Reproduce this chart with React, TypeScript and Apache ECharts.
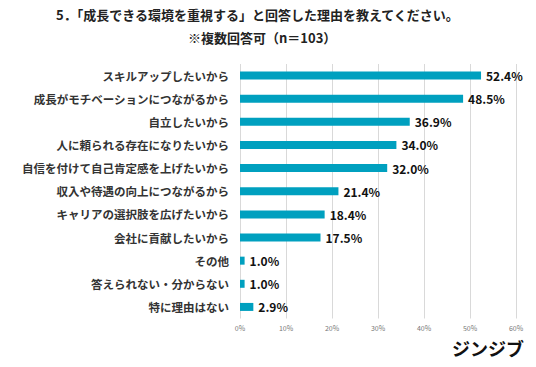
import React, { useEffect, useRef } from "react";
import * as echarts from "echarts";

const categories = [
  "スキルアップしたいから",
  "成長がモチベーションにつながるから",
  "自立したいから",
  "人に頼られる存在になりたいから",
  "自信を付けて自己肯定感を上げたいから",
  "収入や待遇の向上につながるから",
  "キャリアの選択肢を広げたいから",
  "会社に貢献したいから",
  "その他",
  "答えられない・分からない",
  "特に理由はない",
];
const values = [52.4, 48.5, 36.9, 34.0, 32.0, 21.4, 18.4, 17.5, 1.0, 1.0, 2.9];
const title = "5．「成長できる環境を重視する」と回答した理由を教えてください。";
const subtitle = "※複数回答可（n＝103）";
const logo = "ジンジブ";

const FONT = "'Noto Sans CJK JP', 'Noto Sans', sans-serif";

export default function App() {
  const ref = useRef<HTMLDivElement>(null);
  useEffect(() => {
    const chart = echarts.init(ref.current!, null, { renderer: "svg" });
    chart.setOption({
      animation: false,
      backgroundColor: "#ffffff",
      title: [
        {
          text: title,
          left: 56,
          top: 8,
          padding: 0,
          textStyle: { fontFamily: FONT, fontSize: 13, fontWeight: "bold", color: "#222" },
        },
        {
          text: subtitle,
          left: 188,
          top: 31,
          padding: 0,
          textStyle: { fontFamily: FONT, fontSize: 13, fontWeight: "bold", color: "#222" },
        },
      ],
      graphic: [
        {
          type: "text",
          right: 12,
          top: 339,
          style: {
            text: logo,
            fontFamily: FONT,
            fontSize: 18,
            fontWeight: "bold",
            fill: "#111",
          },
        },
      ],
      grid: { left: 240, right: 20, top: 64, bottom: 48.5 },
      xAxis: {
        type: "value",
        min: 0,
        max: 60,
        interval: 10,
        axisLabel: {
          formatter: "{value}%",
          fontSize: 7,
          color: "#777",
          fontFamily: FONT,
          margin: 6,
        },
        axisLine: { show: false },
        axisTick: { show: false },
        splitLine: { lineStyle: { color: "#d9d9d9", width: 1 } },
      },
      yAxis: {
        type: "category",
        data: categories,
        inverse: true,
        axisLine: { show: false },
        axisTick: { show: false },
        axisLabel: {
          fontFamily: FONT,
          fontSize: 11.5,
          fontWeight: "bold",
          color: "#333",
          margin: 11,
        },
      },
      series: [
        {
          type: "bar",
          data: values,
          barWidth: 8,
          itemStyle: { color: "#00A0BF" },
          label: {
            show: true,
            position: "right",
            distance: 5,
            formatter: (p: any) => p.value.toFixed(1) + "%",
            fontFamily: FONT,
            fontSize: 12,
            fontWeight: "bold",
            color: "#111",
          },
        },
      ],
    });
    return () => chart.dispose();
  }, []);
  return <div ref={ref} style={{ width: 536, height: 367, position: "absolute", left: 0, top: 0 }} />;
}
